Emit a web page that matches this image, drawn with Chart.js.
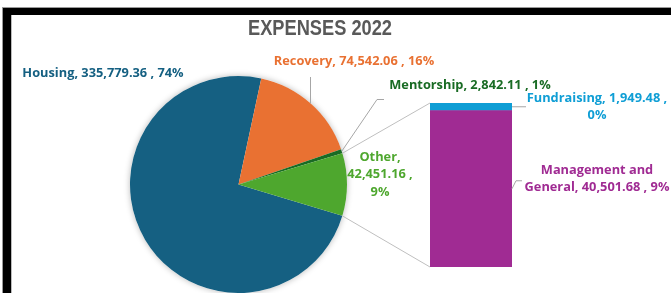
<!DOCTYPE html>
<html><head><meta charset="utf-8">
<script src="https://cdn.jsdelivr.net/npm/chart.js@4/dist/chart.umd.min.js"></script>
<style>
html,body{margin:0;padding:0;background:#fff;width:671px;height:293px;overflow:hidden}
#wrap{position:relative;width:671px;height:293px;overflow:hidden}
canvas{position:absolute;left:0;top:0}
.f{position:absolute}
</style></head><body>
<div id="wrap">
<canvas id="pie" width="671" height="293"></canvas>
<canvas id="bar" width="671" height="293"></canvas>
<div class="f" style="left:2px;top:7px;width:669px;height:1px;background:#9a9a9a"></div>
<div class="f" style="left:2px;top:7px;width:1px;height:286px;background:#9a9a9a"></div>
<div class="f" style="left:3px;top:8px;width:668px;height:7px;background:#000"></div>
<div class="f" style="left:3px;top:8px;width:8px;height:285px;background:#000"></div>
<div class="f" style="left:11px;top:15px;width:1px;height:278px;background:#bbb"></div>
</div>
<script>
// ---- data ----
const title = 'EXPENSES 2022';
const pieCategories = ['Housing', 'Recovery', 'Mentorship', 'Other'];
const pieMainValues = [335779.36, 74542.06, 2842.11];          // Housing, Recovery, Mentorship
const barCategories = ['Management and General', 'Fundraising'];
const barValues = [40501.68, 1949.48];
// ---- derived ----
const otherValue = barValues.reduce((a, b) => a + b, 0);
const pieValues = [...pieMainValues, otherValue];
const grandTotal = pieValues.reduce((a, b) => a + b, 0);

// ---- styles ----
const pieColors = ['#156082', '#E97132', '#196B24', '#4EA72E'];
const barColors = ['#A02B93', '#0F9ED5'];
const labelFont = 'bold 12.8px "Open Sans"';
const lineColor = '#BFBFBF';

const fmt = v => v.toLocaleString('en-US', {minimumFractionDigits: 2, maximumFractionDigits: 2});
const pct = v => Math.round(v / grandTotal * 100) + '%';
const labelText = (name, v) => `${name}, ${fmt(v)} , ${pct(v)}`;

// label layout: center x, first line y, line breaks (words per line), color
const labelLayout = {
  'Housing':                {x: 103, y: 73,  breaks: null,     color: pieColors[0]},
  'Recovery':               {x: 354, y: 61,  breaks: null,     color: pieColors[1]},
  'Mentorship':             {x: 470, y: 85,  breaks: null,     color: pieColors[2]},
  'Other':                  {x: 380, y: 157, breaks: [1,2,1],  color: pieColors[3]},
  'Fundraising':            {x: 597, y: 98,  breaks: [3,1],    color: barColors[1]},
  'Management and General': {x: 597, y: 170, breaks: [2,4],    color: barColors[0]}
};
const lineH = 17.5;

function drawLabel(ctx, name, value) {
  const L = labelLayout[name];
  const words = labelText(name, value).split(' ');
  let lines = [words.join(' ')];
  if (L.breaks) {
    lines = []; let i = 0;
    L.breaks.forEach(n => { lines.push(words.slice(i, i + n).join(' ')); i += n; });
  }
  ctx.fillStyle = L.color;
  lines.forEach((t, k) => ctx.fillText(t, L.x, L.y + k * lineH));
}

const pieShadow = {
  id: 'pieShadow',
  beforeDatasetsDraw(chart) {
    const a = chart.getDatasetMeta(0).data[0];
    const ctx = chart.ctx;
    ctx.save();
    ctx.shadowColor = 'rgba(0,0,0,0.28)';
    ctx.shadowBlur = 6;
    ctx.fillStyle = '#ffffff';
    ctx.beginPath(); ctx.arc(a.x, a.y, a.outerRadius, 0, Math.PI * 2); ctx.fill();
    ctx.restore();
  }
};

const pieChart = new Chart(document.getElementById('pie'), {
  type: 'pie',
  data: { labels: pieCategories, datasets: [{ data: pieValues, backgroundColor: pieColors, borderWidth: 0 }] },
  options: {
    responsive: false, animation: false, rotation: 106.8,
    layout: { padding: { left: 130, right: 324, top: 76, bottom: 0 } },
    plugins: { legend: { display: false }, tooltip: { enabled: false } }
  },
  plugins: [pieShadow]
});

const overlay = {
  id: 'overlay',
  afterDraw(chart) {
    const ctx = chart.ctx;
    const pm = pieChart.getDatasetMeta(0).data;
    const bm0 = chart.getDatasetMeta(0).data[0]; // management
    const bm1 = chart.getDatasetMeta(1).data[0]; // fundraising
    const pt = (arc, ang, r) => [arc.x + (r ?? arc.outerRadius) * Math.cos(ang), arc.y + (r ?? arc.outerRadius) * Math.sin(ang)];
    ctx.save();
    ctx.strokeStyle = lineColor; ctx.lineWidth = 1;
    // connectors between pie "Other" slice and bar
    const other = pm[3];
    const barLeft = bm0.x - bm0.width / 2, barRight = bm0.x + bm0.width / 2;
    const p1 = pt(other, other.startAngle), p2 = pt(other, other.endAngle);
    ctx.beginPath();
    ctx.moveTo(p1[0], p1[1]); ctx.lineTo(barLeft, bm1.y);
    ctx.moveTo(p2[0], p2[1]); ctx.lineTo(barLeft, bm0.base);
    ctx.stroke();
    // leader lines
    ctx.strokeStyle = '#A6A6A6';
    ctx.beginPath();
    const rec = pm[1]; const lx = 310.5;
    const ey = rec.y - Math.sqrt(rec.outerRadius ** 2 - (lx - rec.x) ** 2);
    ctx.moveTo(lx, 77); ctx.lineTo(lx, ey);
    const men = pm[2]; const mm = pt(men, (men.startAngle + men.endAngle) / 2);
    ctx.moveTo(384, 99.5); ctx.lineTo(377, 99.5); ctx.lineTo(mm[0], mm[1]);
    const fy = (bm1.y + bm1.base) / 2;
    ctx.moveTo(barRight, fy); ctx.lineTo(barRight + 14, fy);
    const my = (bm0.y + bm0.base) / 2;
    ctx.moveTo(barRight, my); ctx.lineTo(barRight + 4, my - 8); ctx.lineTo(barRight + 10, my - 8);
    ctx.stroke();
    // title (condensed by horizontal scaling)
    ctx.fillStyle = '#595959';
    ctx.font = 'bold 21px "Liberation Sans", Arial, sans-serif';
    ctx.textAlign = 'center'; ctx.textBaseline = 'alphabetic';
    const tw = ctx.measureText(title).width;
    const sx = 144 / tw;
    ctx.save();
    ctx.translate(320, 35); ctx.scale(sx, 1.02);
    ctx.fillText(title, 0, 0);
    ctx.restore();
    // labels
    ctx.font = labelFont; ctx.textBaseline = 'middle';
    pieMainValues.forEach((v, i) => drawLabel(ctx, pieCategories[i], v));
    drawLabel(ctx, pieCategories[3], otherValue);
    barValues.forEach((v, i) => drawLabel(ctx, barCategories[i], v));
    ctx.restore();
  }
};

new Chart(document.getElementById('bar'), {
  type: 'bar',
  data: {
    labels: ['Other'],
    datasets: barCategories.map((c, i) => ({
      label: c, data: [barValues[i]], backgroundColor: barColors[i], borderWidth: 0,
      barPercentage: 1, categoryPercentage: 1
    }))
  },
  options: {
    responsive: false, animation: false,
    layout: { padding: { left: 430, right: 159, top: 103, bottom: 26 } },
    scales: {
      x: { display: false, stacked: true },
      y: { display: false, stacked: true, min: 0, max: otherValue }
    },
    plugins: { legend: { display: false }, tooltip: { enabled: false } }
  },
  plugins: [overlay]
});
</script>
</body></html>
